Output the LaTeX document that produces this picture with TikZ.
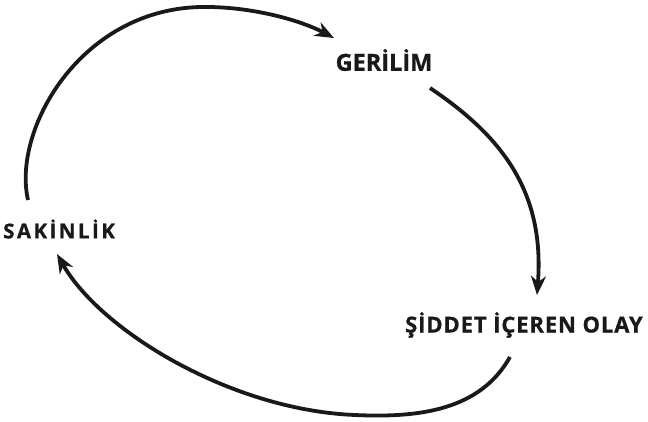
\documentclass[tikz,border=0pt]{standalone}
\usepackage{fontspec}
\setmainfont{Open Sans}
\newfontfamily\lblA{Open Sans}[FakeBold=0.8]
\newfontfamily\lblB{Open Sans}[LetterSpace=12, FakeBold=0.8]
\newfontfamily\lblC{Open Sans}[LetterSpace=4, FakeBold=0.8]
\usetikzlibrary{arrows.meta}
\begin{document}
\begin{tikzpicture}[x=1pt,y=-1pt,
  lbl/.style={inner sep=0pt, text=black!90},
  cyc/.style={line width=3.8pt, draw=black!90, -{Stealth[length=19pt,width=15pt,inset=6pt]}}]
\useasboundingbox (0,0) rectangle (648,421);
\node[lbl, font=\fontsize{23.5}{28}\lblA\bfseries] (ger) at (384,60) {GERİLİM};
\node[lbl, font=\fontsize{20.5}{24}\lblB\bfseries, anchor=west] (sak) at (3,229) {SAKİNLİK};
\node[lbl, font=\fontsize{22}{26}\lblC\bfseries, anchor=west] (sid) at (405,325) {ŞİDDET İÇEREN OLAY};
\coordinate (a1s) at (28,200);
\coordinate (a1e) at (334,38);
\coordinate (a2s) at (430,88);
\coordinate (a2e) at (537,295);
\coordinate (a3s) at (510,357);
\coordinate (a3e) at (57,254);
\draw[cyc] (a1s) .. controls (12,130) and (80,10) .. (200,7) .. controls (250,6) and (300,20) .. (a1e);
\draw[cyc] (a2s) .. controls (500,135) and (545,190) .. (a2e);
\draw[cyc] (a3s) .. controls (480,410) and (420,418) .. (355,415) .. controls (230,410) and (100,330) .. (a3e);
\end{tikzpicture}
\end{document}
